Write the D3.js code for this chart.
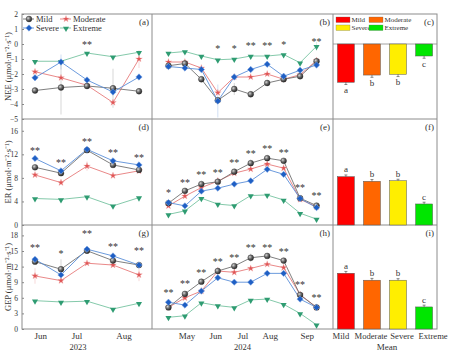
<!DOCTYPE html>
<html>
<head>
<meta charset="utf-8">
<script src="https://cdn.jsdelivr.net/npm/d3@7"></script>
<style>
body { margin: 0; background: #fff; }
text { font-family: "Liberation Serif", serif; fill: #333; }
</style>
</head>
<body>
<svg width="454" height="353"></svg>
<script>
const series = ["Mild", "Moderate", "Severe", "Extreme"];

const months2023 = ["Jun", "Jul", "Aug"];
const monthPos2023 = [0.2, 1.6, 3.4];
const months2024 = ["May", "Jun", "Jul", "Aug", "Sep"];
const monthPos2024 = [1.1, 2.85, 4.5, 6.15, 8.4];

// rows: Mild, Moderate, Severe, Extreme
const nee2023 = [
    [-3.1, -2.9, -2.8, -2.95, -3.15],
    [-1.85, -2.25, -2.75, -3.9, -1.0],
    [-2.25, -1.2, -2.4, -3.2, -2.2],
    [-1.15, -1.15, -0.6, -0.85, -0.55]
];
const nee2024 = [
    [-1.45, -1.3, -2.35, -3.75, -3.0, -3.35, -2.6, -2.35, -2.15, -1.15],
    [-1.2, -1.2, -1.6, -3.25, -2.2, -2.2, -2.0, -2.35, -2.05, -1.1],
    [-1.5, -1.6, -1.7, -3.8, -2.2, -1.7, -1.35, -2.15, -1.75, -1.4],
    [-0.6, -0.5, -0.8, -1.05, -1.0, -0.8, -0.8, -0.7, -1.25, -0.15]
];
const er2023 = [
    [9.8, 8.8, 12.7, 10.2, 9.35],
    [8.5, 7.2, 10.0, 8.4, 9.2],
    [11.3, 9.2, 12.85, 10.9, 10.2],
    [4.5, 4.35, 4.8, 3.25, 4.65]
];
const er2024 = [
    [3.7, 5.8, 6.95, 7.35, 9.05, 10.5, 11.35, 10.9, 4.55, 3.3],
    [3.25, 4.9, 6.35, 7.45, 8.8, 9.5, 10.35, 9.65, 4.35, 3.1],
    [3.8, 3.25, 5.75, 6.25, 6.95, 7.5, 9.45, 8.6, 4.5, 2.95],
    [1.8, 2.4, 4.55, 3.55, 3.3, 5.0, 5.1, 4.25, 2.0, 1.0]
];
const gep2023 = [
    [12.95, 11.5, 15.05, 13.15, 12.3],
    [10.2, 9.3, 12.65, 12.3, 10.4],
    [13.4, 10.4, 15.35, 14.05, 12.3],
    [5.45, 5.2, 5.35, 3.85, 4.95]
];
const gep2024 = [
    [4.15, 6.75, 9.1, 11.15, 12.1, 13.7, 14.05, 13.15, 6.55, 4.15],
    [4.15, 6.0, 7.3, 11.15, 10.9, 11.65, 12.45, 11.8, 6.65, 4.15],
    [5.15, 4.6, 7.3, 9.85, 9.0, 9.0, 10.7, 10.7, 5.75, 4.15],
    [2.25, 2.55, 5.05, 4.5, 4.15, 5.6, 5.75, 4.75, 3.0, 0.8]
];

// significance marks and their heights
const neeSig2023 = ["", "", "**", "", ""];
const neeSigY2023 = [0, 0, 0.07, 0, 0];
const neeSig2024 = ["", "", "", "*", "*", "**", "**", "*", "", "**"];
const neeSigY2024 = [0, 0, 0, -0.25, -0.2, 0, 0, 0.07, 0, 0.27];
const erSig2023 = ["**", "**", "**", "**", "**"];
const erSigY2023 = [12.85, 10.75, 14.45, 12.45, 11.7];
const erSig2024 = ["*", "**", "**", "**", "**", "**", "**", "**", "**", "**"];
const erSigY2024 = [5.65, 7.45, 8.8, 9.15, 10.85, 12.3, 13.1, 12.55, 6.5, 5.2];
const gepSig2023 = ["**", "*", "**", "**", "**"];
const gepSigY2023 = [15.95, 14.65, 18.6, 16.15, 15.4];
const gepSig2024 = ["**", "**", "**", "**", "**", "**", "**", "**", "**", "**"];
const gepSigY2024 = [7.3, 8.9, 11.15, 13.1, 14.05, 15.85, 15.95, 15.05, 8.8, 6.35];

// the visible error bars: [series, point, half-width]
const neeErr2023 = [[0, 1, 1.8], [0, 3, 1.3], [1, 4, 0.6], [2, 1, 0.5]];
const neeErr2024 = [[2, 3, 1.1], [0, 4, 0.4], [3, 9, 0.3]];
const erErr2023 = [[1, 2, 0.8], [0, 1, 0.6]];
const erErr2024 = [[0, 5, 0.6], [1, 3, 0.6]];
const gepErr2023 = [[0, 1, 1.9], [1, 0, 1.5], [1, 4, 1.2]];
const gepErr2024 = [[0, 5, 0.8], [1, 3, 0.8]];

const neeMean = [-2.55, -2.07, -2.02, -0.8];
const neeMeanErr = [0.15, 0.15, 0.15, 0.15];
const erMean = [8.2, 7.42, 7.52, 3.57];
const erMeanErr = [0.3, 0.3, 0.25, 0.3];
const gepMean = [10.72, 9.38, 9.38, 4.24];
const gepMeanErr = [0.35, 0.35, 0.3, 0.35];
const meanLetters = ["a", "b", "b", "c"];

const svg = d3.select("svg");

const colX = [22, 152, 333, 437];
const rowY = [14, 119, 225, 329];

const lineColors = ["#707070", "#e77a7a", "#5a8fd8", "#76c3a0"];
const markColors = ["#3a3a3a", "#e05555", "#1f5fc4", "#2f9c72"];
const barColors = ["#ff0000", "#ff6600", "#ffee00", "#00e600"];

const defs = svg.append("defs");
const grad = defs.append("radialGradient").attr("id", "mildBall")
    .attr("cx", "35%").attr("cy", "35%").attr("r", "70%");
grad.append("stop").attr("offset", "0%").attr("stop-color", "#d8d8d8");
grad.append("stop").attr("offset", "45%").attr("stop-color", "#707070");
grad.append("stop").attr("offset", "100%").attr("stop-color", "#1e1e1e");

const x2023 = d3.scaleLinear().domain([-0.5, 4.5]).range([colX[0], colX[1]]);
const x2024 = d3.scaleLinear().domain([-1, 10]).range([colX[1], colX[2]]);
const xBar = d3.scaleBand().domain(series).range([colX[2], colX[3]])
    .paddingInner(0.35).paddingOuter(0.17);

const yNEE = d3.scaleLinear().domain([-5, 2]).range([rowY[1], rowY[0]]);
const yER = d3.scaleLinear().domain([0, 18]).range([rowY[2], rowY[1]]);
const yGEP = d3.scaleLinear().domain([0, 20]).range([rowY[3], rowY[2]]);

function marker(g, s, x, y) {
    if (s === 0) {
        g.append("circle").attr("cx", x).attr("cy", y).attr("r", 2.9)
            .attr("fill", "url(#mildBall)").attr("stroke", "#333").attr("stroke-width", 0.4);
    } else if (s === 1) {
        g.append("path").attr("d", d3.symbol(d3.symbolStar, 14)())
            .attr("transform", `translate(${x},${y})`)
            .attr("fill", markColors[1]).attr("stroke", "#f3b0b0").attr("stroke-width", 0.3);
    } else if (s === 2) {
        g.append("path").attr("d", d3.symbol(d3.symbolSquare, 20)())
            .attr("transform", `translate(${x},${y}) rotate(45)`)
            .attr("fill", markColors[2]).attr("stroke", "#7fa8e6").attr("stroke-width", 0.5);
    } else {
        g.append("path").attr("d", d3.symbol(d3.symbolTriangle, 16)())
            .attr("transform", `translate(${x},${y + 0.5}) rotate(180)`)
            .attr("fill", markColors[3]);
    }
}

function linePanel(data, xs, ys, sig, sigY, errs) {
    const g = svg.append("g");
    errs.forEach(([s, i, e]) => {
        g.append("line")
            .attr("x1", xs(i)).attr("x2", xs(i))
            .attr("y1", ys(data[s][i] - e)).attr("y2", ys(data[s][i] + e))
            .attr("stroke", lineColors[s]).attr("stroke-opacity", 0.35).attr("stroke-width", 0.8);
    });
    const line = d3.line().x((d, i) => xs(i)).y(d => ys(d));
    [3, 1, 0, 2].forEach(s => {
        g.append("path").attr("d", line(data[s]))
            .attr("fill", "none").attr("stroke", lineColors[s]).attr("stroke-width", 0.9);
    });
    [3, 1, 0, 2].forEach(s => {
        data[s].forEach((v, i) => marker(g, s, xs(i), ys(v)));
    });
    sig.forEach((t, i) => {
        if (!t) return;
        g.append("text").attr("x", xs(i)).attr("y", ys(sigY[i]) + 4.6)
            .attr("text-anchor", "middle").attr("font-size", 10).text(t);
    });
}

function barPanel(means, errs, ys) {
    const g = svg.append("g");
    g.selectAll("rect").data(means).enter().append("rect")
        .attr("x", (d, i) => xBar(series[i]))
        .attr("width", xBar.bandwidth())
        .attr("y", d => Math.min(ys(d), ys(0)))
        .attr("height", d => Math.abs(ys(d) - ys(0)))
        .attr("fill", (d, i) => barColors[i])
        .attr("stroke", "#555").attr("stroke-width", 0.5);
    means.forEach((m, i) => {
        const cx = xBar(series[i]) + xBar.bandwidth() / 2;
        const dir = m < 0 ? -1 : 1;
        const tip = ys(m + dir * errs[i]);
        g.append("line").attr("x1", cx).attr("x2", cx).attr("y1", ys(m)).attr("y2", tip)
            .attr("stroke", "#444").attr("stroke-width", 0.6);
        g.append("line").attr("x1", cx - 1.5).attr("x2", cx + 1.5).attr("y1", tip).attr("y2", tip)
            .attr("stroke", "#444").attr("stroke-width", 0.6);
        g.append("text").attr("x", cx)
            .attr("y", m < 0 ? tip + 8.5 : tip - 2.5)
            .attr("text-anchor", "middle").attr("font-size", 9).text(meanLetters[i]);
    });
}

function yAxis(ys, ticks, title, yc) {
    const ax = svg.append("g").attr("transform", `translate(${colX[0]},0)`)
        .call(d3.axisLeft(ys).tickValues(ticks).tickSize(2).tickPadding(2).tickFormat(d3.format("d")));
    ax.select(".domain").remove();
    ax.selectAll("line").attr("stroke", "#888").attr("transform", "translate(2,0)");
    ax.selectAll("text").attr("font-size", 7.5).attr("font-family", "Liberation Serif").attr("fill", "#444");
    svg.append("text").attr("transform", `translate(11,${yc}) rotate(-90)`)
        .attr("text-anchor", "middle").attr("font-size", 8.5).text(title);
}

// frames
const frame = svg.append("g").attr("fill", "none").attr("stroke", "#8c8c8c").attr("stroke-width", 1);
frame.append("rect").attr("x", colX[0]).attr("y", rowY[0])
    .attr("width", colX[3] - colX[0]).attr("height", rowY[3] - rowY[0]);
[colX[1], colX[2]].forEach(x => frame.append("line")
    .attr("x1", x).attr("x2", x).attr("y1", rowY[0]).attr("y2", rowY[3]));
[rowY[1], rowY[2]].forEach(y => frame.append("line")
    .attr("x1", colX[0]).attr("x2", colX[3]).attr("y1", y).attr("y2", y));
frame.append("line").attr("x1", colX[2]).attr("x2", colX[3])
    .attr("y1", yNEE(0)).attr("y2", yNEE(0)).attr("stroke-width", 0.8);

yAxis(yNEE, d3.range(-5, 3), "NEE (μmol·m⁻²·s⁻¹)", (rowY[0] + rowY[1]) / 2);
yAxis(yER, [0, 4, 8, 12, 16], "ER (μmol·m⁻²·s⁻¹)", (rowY[1] + rowY[2]) / 2);
yAxis(yGEP, [0, 3, 6, 9, 12, 15, 18], "GEP (μmol·m⁻²·s⁻¹)", (rowY[2] + rowY[3]) / 2);

linePanel(nee2023, x2023, yNEE, neeSig2023, neeSigY2023, neeErr2023);
linePanel(nee2024, x2024, yNEE, neeSig2024, neeSigY2024, neeErr2024);
linePanel(er2023, x2023, yER, erSig2023, erSigY2023, erErr2023);
linePanel(er2024, x2024, yER, erSig2024, erSigY2024, erErr2024);
linePanel(gep2023, x2023, yGEP, gepSig2023, gepSigY2023, gepErr2023);
linePanel(gep2024, x2024, yGEP, gepSig2024, gepSigY2024, gepErr2024);

barPanel(neeMean, neeMeanErr, yNEE);
barPanel(erMean, erMeanErr, yER);
barPanel(gepMean, gepMeanErr, yGEP);

// x axes
function xAxis(scale, ticks, labels, size) {
    const ax = svg.append("g").attr("transform", `translate(0,${rowY[3]})`)
        .call(d3.axisBottom(scale).tickValues(ticks).tickSize(0).tickPadding(4)
            .tickFormat((d, i) => labels[i]));
    ax.select(".domain").remove();
    ax.selectAll("text").attr("font-size", size).attr("font-family", "Liberation Serif").attr("fill", "#333");
    return ax;
}
xAxis(x2023, monthPos2023, months2023, 9);
xAxis(x2024, monthPos2024, months2024, 9);
const barAx = xAxis(xBar, series, series, 8.6);
const labelShift = [-5, -1, 4, 9];
barAx.selectAll("text").attr("dx", (d, i) => labelShift[i]);

svg.append("text").attr("x", x2023(1.65)).attr("y", 350).attr("text-anchor", "middle")
    .attr("font-size", 8.5).text("2023");
svg.append("text").attr("x", x2024(4.5)).attr("y", 350).attr("text-anchor", "middle")
    .attr("font-size", 8.5).text("2024");
svg.append("text").attr("x", (colX[2] + colX[3]) / 2 + 2).attr("y", 350).attr("text-anchor", "middle")
    .attr("font-size", 9).text("Mean");

// panel labels
const panelLabels = ["(a)", "(b)", "(c)", "(d)", "(e)", "(f)", "(g)", "(h)", "(i)"];
panelLabels.forEach((t, k) => {
    const r = Math.floor(k / 3), c = k % 3;
    svg.append("text").attr("x", colX[c + 1] - 3).attr("y", rowY[r] + 11)
        .attr("text-anchor", "end").attr("font-size", 9).text(t);
});

// legend in (a)
const leg = svg.append("g");
series.forEach((s, i) => {
    const lx = 25 + (i % 2) * 37, ly = 19 + Math.floor(i / 2) * 9;
    leg.append("line").attr("x1", lx - 2).attr("x2", lx + 9).attr("y1", ly).attr("y2", ly)
        .attr("stroke", lineColors[i]).attr("stroke-width", 0.9);
    marker(leg, i, lx + 4, ly);
    leg.append("text").attr("x", lx + 11).attr("y", ly + 2.8).attr("font-size", 8.5).text(s);
});

// legend in (c)
series.forEach((s, i) => {
    const order = [0, 2, 1, 3][i];
    const lx = 336 + Math.floor(order / 2) * 33, ly = 17 + (order % 2) * 8;
    leg.append("rect").attr("x", lx).attr("y", ly).attr("width", 14).attr("height", 5.5)
        .attr("fill", barColors[i]).attr("stroke", "#666").attr("stroke-width", 0.3);
    leg.append("text").attr("x", lx + 15.5).attr("y", ly + 5).attr("font-size", 7).text(s);
});
</script>
</body>
</html>
